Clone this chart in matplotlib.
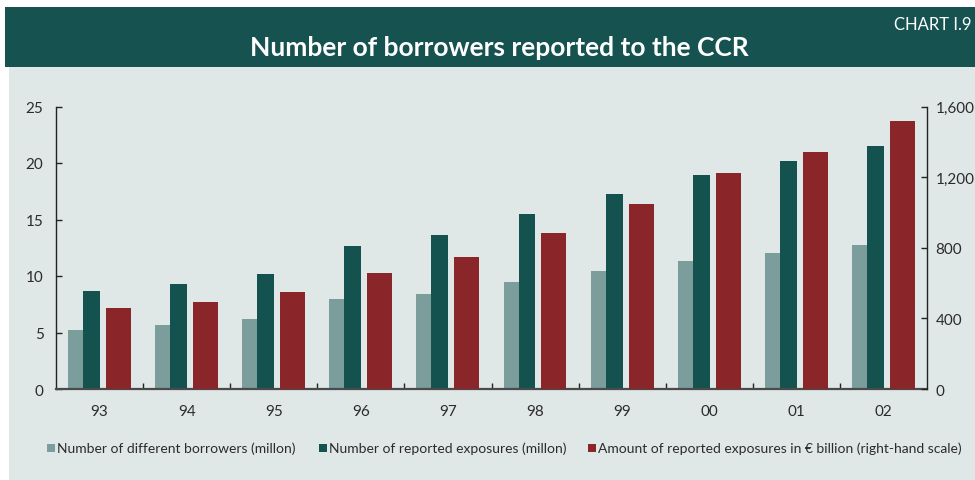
"""Number of borrowers reported to the CCR (Chart I.9)."""

import matplotlib

matplotlib.use("Agg", force=True)
import matplotlib.pyplot as plt
import numpy as np
from matplotlib.patches import Rectangle

years = ["93", "94", "95", "96", "97", "98", "99", "00", "01", "02"]
borrowers = [5.2, 5.7, 6.2, 7.95, 8.4, 9.5, 10.45, 11.3, 12.0, 12.7]
exposures = [8.7, 9.3, 10.2, 12.65, 13.6, 15.5, 17.25, 18.9, 20.2, 21.5]
amount = [460, 490, 552, 658, 750, 885, 1045, 1225, 1345, 1520]

left_ticks = [0, 5, 10, 15, 20, 25]
right_ticks = [0, 400, 800, 1200, 1600]
right_labels = ["0", "400", "800", "1,200", "1,600"]

legend_labels = [
    "Number of different borrowers (millon)",
    "Number of reported exposures (millon)",
    "Amount of reported exposures in \u20ac billion (right-hand scale)",
]

LIGHT = "#7b9d9b"
DARK = "#145250"
RED = "#8a2629"
HEADER = "#155250"
BODY = "#dfe8e7"
TEXT = "#2b2b2b"

plt.rcParams["font.family"] = ["Lato", "DejaVu Sans"]

W, H = 975, 481
fig = plt.figure(figsize=(W / 100, H / 100), dpi=100)
fig.patch.set_facecolor("white")


def px(x0, y0, w, h):
    # pixel box (top-left origin) -> figure fraction
    return [x0 / W, 1 - (y0 + h) / H, w / W, h / H]


fig.patches.append(Rectangle((5 / W, 1 - 68 / H), 1, 60 / H, transform=fig.transFigure,
                             facecolor=HEADER, edgecolor="none", zorder=-5))
fig.patches.append(Rectangle((9 / W, 0), 1, 1 - 68 / H, transform=fig.transFigure,
                             facecolor=BODY, edgecolor="none", zorder=-5))

fig.text(499 / W, 1 - 48 / H, "Number of borrowers reported to the CCR", color="white",
         fontsize=19, fontweight="bold", ha="center", va="center")
fig.text(971 / W, 1 - 25 / H, "CHART I.9", color="white", fontsize=12, ha="right", va="center")

ax = fig.add_axes(px(56, 107.5, 871, 282.5))
ax.set_facecolor("none")
x = np.arange(len(years))
ax.bar(x + 0.138, borrowers, width=0.172, align="edge", color=LIGHT, zorder=2)
ax.bar(x + 0.310, exposures, width=0.195, align="edge", color=DARK, zorder=2)
ax.set_xlim(0, len(years))
ax.set_ylim(0, 25)
ax.set_yticks(left_ticks)
ax.set_xticks(np.arange(1, len(years)))
ax.set_xticklabels([])
ax.set_xticks(x + 0.5, minor=True)
ax.set_xticklabels(years, minor=True)

ax2 = ax.twinx()
ax2.bar(x + 0.574, amount, width=0.287, align="edge", color=RED, zorder=2)
ax2.set_ylim(0, 1600)
ax2.set_yticks(right_ticks)
ax2.set_yticklabels(right_labels)

for a in (ax, ax2):
    a.spines["top"].set_visible(False)
ax2.spines["left"].set_visible(False)
ax.spines["right"].set_visible(False)
ax.spines["left"].set_color("#222222")
ax.spines["left"].set_linewidth(1.0)
ax2.spines["right"].set_color("#222222")
ax2.spines["right"].set_linewidth(1.0)
ax.spines["bottom"].set_color("#4a4a4a")
ax.spines["bottom"].set_linewidth(1.6)
ax2.spines["bottom"].set_visible(False)

ax.tick_params(axis="y", direction="in", length=4, width=1, color="#222222",
               labelsize=11, labelcolor=TEXT, pad=9)
ax2.tick_params(axis="y", direction="in", length=4, width=1, color="#222222",
                labelsize=11, labelcolor=TEXT, pad=6)
ax.tick_params(axis="x", which="major", direction="in", length=4, width=1, color="#222222")
ax.tick_params(axis="x", which="minor", length=0, labelsize=11, labelcolor=TEXT, pad=11)

legend_x = [47, 319, 588]
legend_colors = [LIGHT, DARK, RED]
for lx, col, lab in zip(legend_x, legend_colors, legend_labels):
    fig.patches.append(Rectangle((lx / W, 1 - 453 / H), 8 / W, 8 / H, transform=fig.transFigure,
                                 facecolor=col, edgecolor="none"))
    fig.text((lx + 10) / W, 1 - 449 / H, lab, color=TEXT, fontsize=10, ha="left", va="center")

fig.savefig("out.png", dpi=100)
plt.close(fig)
